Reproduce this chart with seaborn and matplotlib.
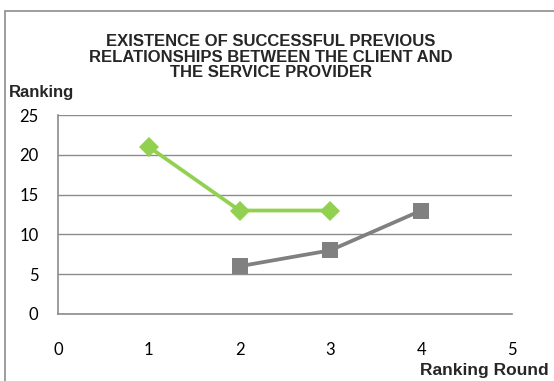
import matplotlib
matplotlib.use("Agg")
import matplotlib.pyplot as plt
import matplotlib.patches as mpatches
import seaborn as sns
import pandas as pd

# Ranking per round for each series
green_rounds = [1, 2, 3]
green_ranking = [21, 13, 13]
gray_rounds = [2, 3, 4]
gray_ranking = [6, 8, 13]

x_ticks = [0, 1, 2, 3, 4, 5]
y_ticks = [0, 5, 10, 15, 20, 25]

title = "EXISTENCE OF SUCCESSFUL PREVIOUS\nRELATIONSHIPS BETWEEN THE CLIENT AND\nTHE SERVICE PROVIDER"

sns.set_theme(style="white")
plt.rcParams["font.family"] = ["Liberation Sans", "DejaVu Sans"]

fig = plt.figure(figsize=(5.54, 3.81), dpi=100)
ax = fig.add_axes([58 / 554, 1 - 314 / 381, (512 - 58) / 554, (314 - 115) / 381])

df_green = pd.DataFrame({"round": green_rounds, "rank": green_ranking})
df_gray = pd.DataFrame({"round": gray_rounds, "rank": gray_ranking})

sns.lineplot(data=df_green, x="round", y="rank", ax=ax, color="#92D050",
             linewidth=2.7, marker="D", markersize=10, markeredgewidth=0,
             zorder=3)
sns.lineplot(data=df_gray, x="round", y="rank", ax=ax, color="#808080",
             linewidth=2.7, marker="s", markersize=11, markeredgewidth=0,
             zorder=3)

ax.set_xlim(0, 5)
ax.set_ylim(0, 25)
ax.set_xticks(x_ticks)
ax.set_yticks(y_ticks)
ax.set_xlabel("")
ax.set_ylabel("")

ax.yaxis.grid(True, color="#8C8C8C", linewidth=1.0)
ax.xaxis.grid(False)
for side in ["top", "right"]:
    ax.spines[side].set_visible(False)
for side in ["left", "bottom"]:
    ax.spines[side].set_color("#8C8C8C")
    ax.spines[side].set_linewidth(1.2)

ax.tick_params(axis="both", length=0, labelsize=12, colors="#000000")
ax.tick_params(axis="x", pad=20)
ax.tick_params(axis="y", pad=14)
for lbl in ax.get_xticklabels() + ax.get_yticklabels():
    lbl.set_family(["Lato", "DejaVu Sans"])

fig.text(271 / 554, 1 - 57 / 381, title, ha="center", va="center",
         fontsize=12, fontweight="bold", linespacing=1.08)
fig.text(9 / 554, 1 - 92 / 381, "Ranking", ha="left", va="center",
         fontsize=12, fontweight="bold")
fig.text(549 / 554, 1 - 370 / 381, "Ranking Round", ha="right", va="center",
         fontsize=12.5, fontweight="bold")

# Chart frame
fig.patches.append(mpatches.Rectangle((5 / 554, -0.1), 1.2, 1 - 11 / 381 + 0.1,
                                      transform=fig.transFigure, fill=False,
                                      edgecolor="#8C8C8C", linewidth=1.2))

fig.savefig("out.png", dpi=100)
